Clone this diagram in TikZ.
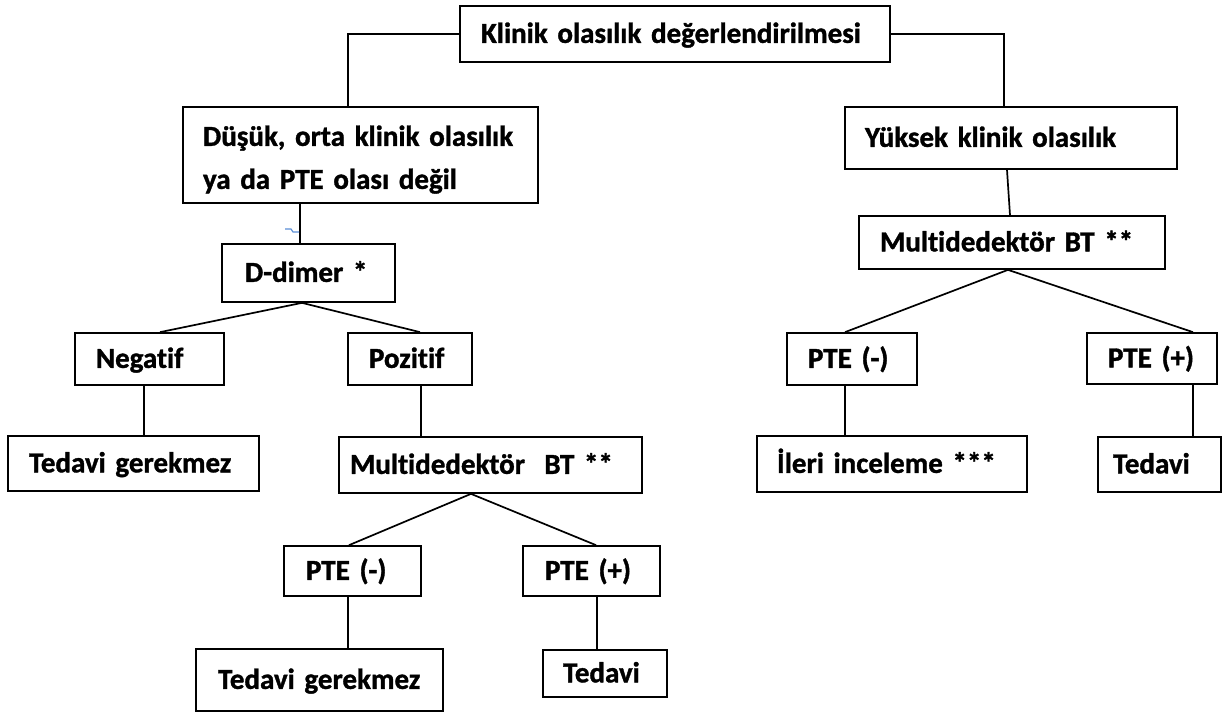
\documentclass[tikz,border=0pt]{standalone}
\usepackage{fontspec}
\setmainfont{Carlito}[Ligatures=NoCommon, BoldFeatures={FakeBold=1.2}]
% strut that keeps the capitals of every line centred in its box
\newcommand{\capstrut}{\rule[-9pt]{0pt}{35.7pt}}
\begin{document}
\begin{tikzpicture}[x=1pt,y=-1pt,
  box/.style={draw=black, line width=1.7pt, rectangle, inner xsep=0pt, inner ysep=0pt,
    align=left, font=\bfseries\fontsize{29}{43}\selectfont},
  link/.style={draw=black, line width=1.7pt}]
\useasboundingbox[fill=white] (0,0) rectangle (1227,713);

% top of the tree
\node[box, text width=430pt, minimum height=56pt] (top) at (675,34) {\capstrut\hspace*{21pt}Klinik olasılık değerlendirilmesi};

% left branch
\node[box, text width=355pt, minimum height=96pt] (dus) at (360.5,155) {\rule[-9pt]{0pt}{42.7pt}\hspace*{20pt}Düşük, orta klinik olasılık\\\capstrut\hspace*{20pt}ya da PTE olası değil};
\node[box, text width=173pt, minimum height=58pt] (dd) at (308.5,273) {\capstrut\hspace*{23pt}D-dimer *};
\node[box, text width=149pt, minimum height=52pt] (neg) at (149.5,359) {\capstrut\hspace*{21pt}Negatif};
\node[box, text width=124pt, minimum height=52pt] (poz) at (410,359) {\capstrut\hspace*{21pt}Pozitif};
\node[box, text width=251pt, minimum height=55pt] (tgA) at (133.5,463.5) {\capstrut\hspace*{21pt}Tedavi gerekmez};
\node[box, text width=303pt, minimum height=56pt] (mbA) at (490.5,465) {\capstrut\hspace*{11pt}Multidedektör\ \ BT **};
\node[box, text width=137pt, minimum height=50pt] (pnA) at (352.5,571) {\capstrut\hspace*{22pt}PTE (-)};
\node[box, text width=137pt, minimum height=50pt] (ppA) at (591.5,571) {\capstrut\hspace*{22pt}PTE (+)};
\node[box, text width=247pt, minimum height=62pt] (tgB) at (319.5,680) {\capstrut\hspace*{22pt}Tedavi gerekmez};
\node[box, text width=124pt, minimum height=47pt] (tvB) at (605,673.5) {\capstrut\hspace*{20pt}Tedavi};

% right branch
\node[box, text width=332pt, minimum height=62pt] (yuk) at (1011,138) {\capstrut\hspace*{20pt}Yüksek klinik olasılık};
\node[box, text width=306pt, minimum height=53pt] (mbR) at (1012,242.5) {\capstrut\hspace*{21pt}Multidedektör BT **};
\node[box, text width=130pt, minimum height=52pt] (pnR) at (852,359) {\capstrut\hspace*{21pt}PTE (-)};
\node[box, text width=130pt, minimum height=51pt] (ppR) at (1152,358.5) {\capstrut\hspace*{21pt}PTE (+)};
\node[box, text width=270pt, minimum height=56pt] (ilR) at (892,464) {\capstrut\hspace*{20pt}İleri inceleme ***};
\node[box, text width=123pt, minimum height=55pt] (tvR) at (1159.5,464.5) {\capstrut\hspace*{15pt}Tedavi};

% connectors from the top box
\draw[link] (top.west) -| ([xshift=-12.5pt]dus.north);
\draw[link] (top.east) -| ([xshift=-7pt]yuk.north);

% left branch connectors
\draw[link] ([xshift=-60.5pt]dus.south) -- ([xshift=-60.5pt]dus.south |- dd.north);
\draw[link] ([xshift=10.5pt]neg.north) -- ([xshift=-6.5pt]dd.south) -- ([xshift=10pt]poz.north);
\draw[link] ([xshift=-5.5pt]neg.south) -- ([xshift=-5.5pt]neg.south |- tgA.north);
\draw[link] ([xshift=11pt]poz.south) -- ([xshift=11pt]poz.south |- mbA.north);
\draw[link] ([xshift=-3.5pt]pnA.north) -- ([xshift=-19.5pt]mbA.south) -- ([xshift=4.5pt]ppA.north);
\draw[link] ([xshift=-4.5pt]pnA.south) -- ([xshift=-4.5pt]pnA.south |- tgB.north);
\draw[link] ([xshift=5.5pt]ppA.south) -- ([xshift=5.5pt]ppA.south |- tvB.north);

% right branch connectors
\draw[link] ([xshift=-4pt]yuk.south) -- ([xshift=-2pt]mbR.north);
\draw[link] ([xshift=-7pt]pnR.north) -- ([xshift=-4pt]mbR.south) -- ([xshift=41pt]ppR.north);
\draw[link] ([xshift=-7pt]pnR.south) -- ([xshift=-7pt]pnR.south |- ilR.north);
\draw[link] ([xshift=41pt]ppR.south) -- ([xshift=41pt]ppR.south |- tvR.north);

% small blue stroke beside the D-dimer link
\draw[color={rgb,255:red,91;green,142;blue,214}, line width=1.2pt] (285,229) -- (291,229) -- (293,232) -- (299,232);
\end{tikzpicture}
\end{document}
